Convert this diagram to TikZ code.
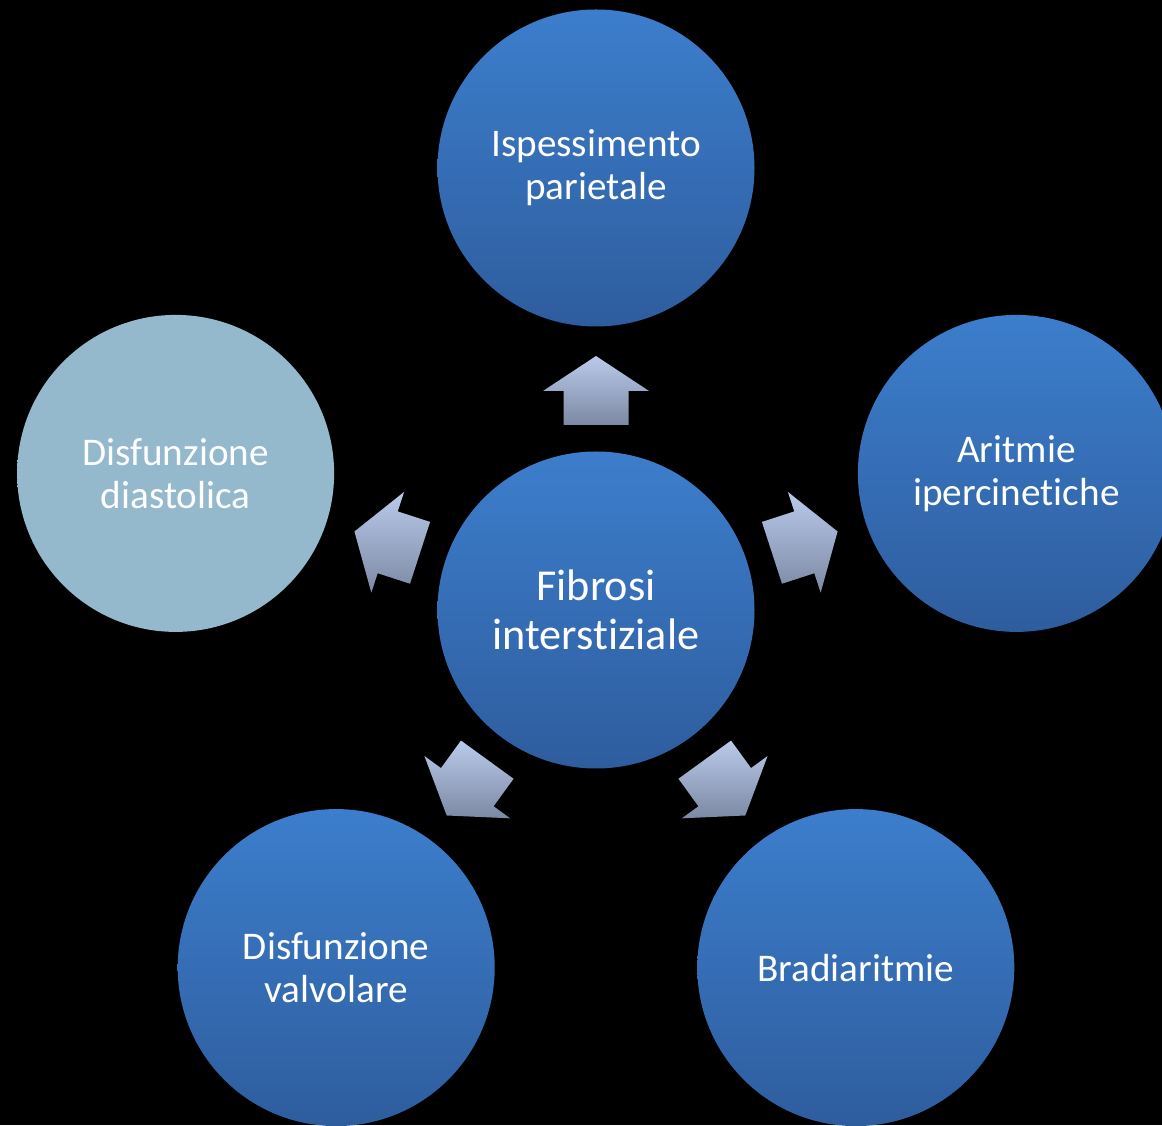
\documentclass[tikz,border=0pt]{standalone}
\usepackage{fontspec}
\setmainfont[Ligatures=NoCommon]{Carlito}
\usetikzlibrary{calc}
\definecolor{circtop}{RGB}{60,126,204}
\definecolor{circbot}{RGB}{46,93,158}
\definecolor{paleblue}{RGB}{148,184,204}
\definecolor{arrtop}{RGB}{186,202,234}
\definecolor{arrbot}{RGB}{124,137,164}

\begin{document}
\begin{tikzpicture}[x=0.5pt, y=0.5pt,
    bubble/.style={circle, inner sep=0pt, minimum size=158.5pt,
                   top color=circtop, bottom color=circbot,
                   text=white, align=center,
                   font=\fontsize{19.6}{21.5}\selectfont},
    bubblepale/.style={bubble, top color=paleblue, bottom color=paleblue},
    bubblemain/.style={bubble, font=\fontsize{22.1}{24.2}\selectfont},
    blockarr/.style={top color=arrtop, bottom color=arrbot}
  ]
  % sfondo
  \fill[black] (0,0) rectangle (1162,1125);
  \clip (0,0) rectangle (1162,1125);

  % centro
  \node[bubblemain] (fib) at (596,515) {Fibrosi\\ interstiziale};

  % cerchi esterni
  \node[bubble] (isp) at ($(fib)+(90:442)$) {Ispessimento\\ parietale};
  \node[bubble] (ari) at ($(fib)+(18:442)$) {Aritmie\\ ipercinetiche};
  \node[bubble] (bra) at ($(fib)+(-54:442)$) {Bradiaritmie};
  \node[bubble] (val) at ($(fib)+(234:442)$) {Disfunzione\\ valvolare};
  \node[bubblepale] (dia) at ($(fib)+(162:442)$) {Disfunzione\\ diastolica};

  % frecce
  \foreach \a in {90,18,-54,234,162} {
    \begin{scope}[shift={(fib)}, rotate=\a-90]
      \shade[blockarr]
        (0,254) -- (53,219) -- (32.5,219) -- (32.5,185)
        -- (-32.5,185) -- (-32.5,219) -- (-53,219) -- cycle;
    \end{scope}
  }
\end{tikzpicture}
\end{document}
